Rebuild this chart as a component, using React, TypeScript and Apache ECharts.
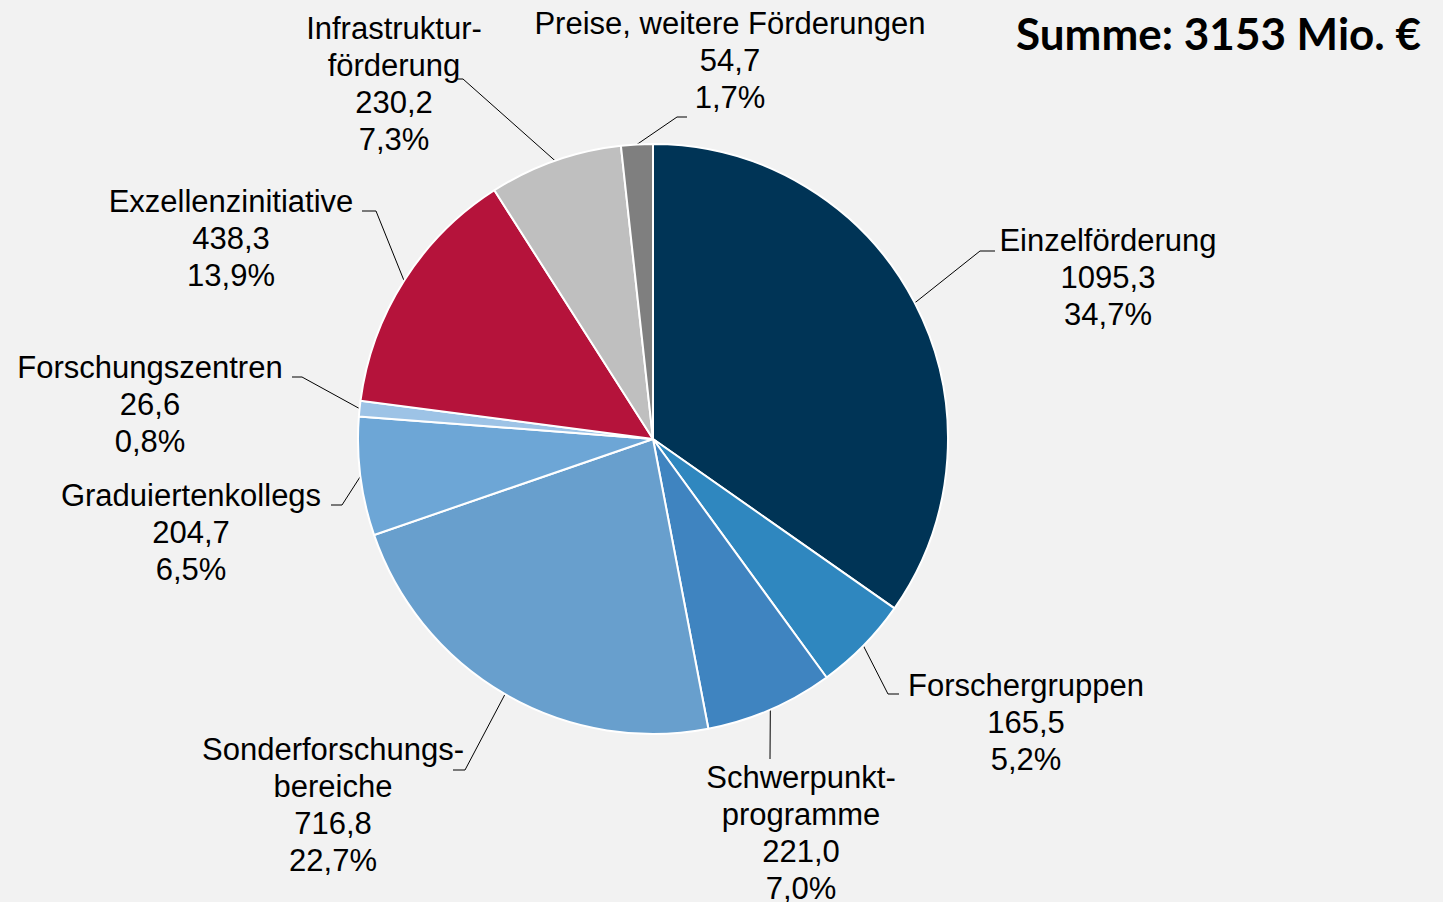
import React, { useEffect, useRef } from 'react';
import * as echarts from 'echarts';

// ---- data ----
const categories = [
  'Einzelförderung',
  'Forschergruppen',
  'Schwerpunkt-\nprogramme',
  'Sonderforschungs-\nbereiche',
  'Graduiertenkollegs',
  'Forschungszentren',
  'Exzellenzinitiative',
  'Infrastruktur-\nförderung',
  'Preise, weitere Förderungen',
];
const values = [1095.3, 165.5, 221.0, 716.8, 204.7, 26.6, 438.3, 230.2, 54.7];
const colors = ['#003456', '#2F87BF', '#3F84C0', '#689FCD', '#6DA6D6', '#9DC3E6', '#B5133B', '#BFBFBF', '#7F7F7F'];
const totalLabel = 'Summe: 3153 Mio. €';

// ---- layout (positions of the outside labels, not data) ----
const CENTER: [number, number] = [653, 439];
const RADIUS = 295;
const labelPlacement: { x: number; top: number; pts: number[][] }[] = [
  { x: 1108, top: 222, pts: [[980, 251], [995, 251]] },
  { x: 1026, top: 667, pts: [[888, 694], [899, 694]] },
  { x: 801, top: 759, pts: [[770, 759]] },
  { x: 333, top: 731, pts: [[465, 770], [453, 770]] },
  { x: 191, top: 477, pts: [[342, 505], [331, 505]] },
  { x: 150, top: 349, pts: [[302, 377], [292, 377]] },
  { x: 231, top: 183, pts: [[376, 211], [362, 211]] },
  { x: 394, top: 10, pts: [[463, 79], [456, 79]] },
  { x: 730, top: 5, pts: [[677, 117], [687, 117]] },
];

const fmt = (n: number, d: number) => n.toFixed(d).replace('.', ',');

export default function App() {
  const ref = useRef<HTMLDivElement>(null);
  useEffect(() => {
    if (!ref.current) return;
    const chart = echarts.init(ref.current, null, { renderer: 'svg' });
    const total = values.reduce((a, b) => a + b, 0);
    const cum: number[] = [];
    values.reduce((acc, v, i) => {
      cum[i] = acc + v / 2;
      return acc + v;
    }, 0);
    const edgePoint = (i: number) => {
      const ang = (cum[i] / total) * Math.PI * 2;
      return [CENTER[0] + RADIUS * Math.sin(ang), CENTER[1] - RADIUS * Math.cos(ang)];
    };
    chart.setOption({
      animation: false,
      backgroundColor: '#F2F2F2',
      textStyle: { fontFamily: 'Arial' },
      title: {
        text: totalLabel,
        right: 17,
        top: 6,
        textStyle: { fontFamily: 'Lato', fontWeight: 'bold', fontSize: 44, color: '#000' },
      },
      series: [
        {
          type: 'pie',
          center: CENTER,
          radius: RADIUS,
          startAngle: 90,
          clockwise: true,
          avoidLabelOverlap: false,
          itemStyle: { borderColor: '#FFFFFF', borderWidth: 2 },
          label: {
            show: true,
            position: 'outside',
            color: '#000',
            fontFamily: 'Arial',
            fontSize: 31,
            lineHeight: 37,
            align: 'center',
            formatter: (p: any) => `${p.name}\n${fmt(p.value, 1)}\n${fmt((p.value / total) * 100, 1)}%`,
          },
          labelLine: { show: true, length: 10, length2: 10, lineStyle: { color: '#000', width: 1 } },
          labelLayout: (params: any) => {
            const i = params.dataIndex;
            const lp = labelPlacement[i];
            const start = edgePoint(i);
            return {
              x: lp.x,
              y: lp.top,
              align: 'center',
              verticalAlign: 'top',
              labelLinePoints: [start, ...lp.pts],
            };
          },
          emphasis: { disabled: true },
          data: categories.map((c, i) => ({ name: c, value: values[i], itemStyle: { color: colors[i] } })),
        },
      ],
    });
    return () => chart.dispose();
  }, []);
  return <div ref={ref} style={{ position: 'absolute', left: 0, top: 0, width: 1443, height: 902 }} />;
}
